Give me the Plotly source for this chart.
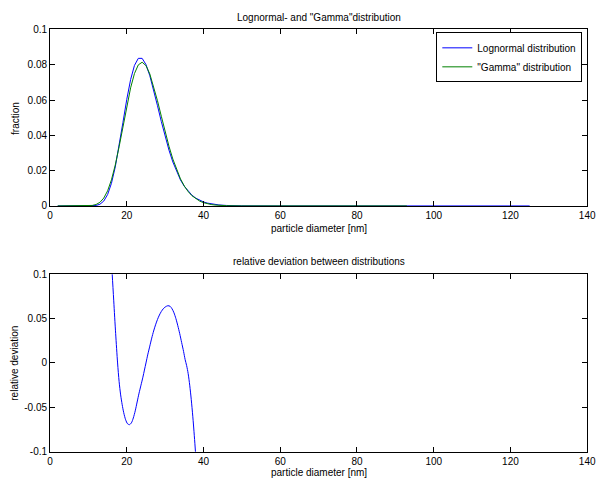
import plotly.graph_objects as go

# ---- data ----
x_dist = [2, 6, 10, 11, 12, 13, 14, 15, 16, 17, 18, 19, 20, 21, 22, 23, 24, 25, 26, 27, 28, 29,
          30, 31, 32, 33, 34, 35, 36, 37, 38, 39, 40, 41, 42, 43, 44, 46, 50, 60, 70, 80, 93,
          100, 110, 125]
lognormal = [0, 0, 0.0000077, 0.000054, 0.000266, 0.000964, 0.00275, 0.00645, 0.0128, 0.0221,
             0.0340, 0.0473, 0.0604, 0.0716, 0.0796, 0.0836, 0.0836, 0.0801, 0.0738, 0.0657,
             0.0568, 0.0478, 0.0393, 0.0316, 0.0249, 0.0193, 0.0147, 0.0111, 0.00824, 0.00606,
             0.00441, 0.00318, 0.00227, 0.00161, 0.00114, 0.000797, 0.000555, 0.000266, 0.000058,
             0, 0, 0, 0, 0, 0, 0]
x_gamma = [2, 6, 10, 11, 12, 13, 14, 15, 16, 17, 18, 19, 20, 21, 22, 23, 24, 25, 26, 27, 28, 29,
           30, 31, 32, 33, 34, 35, 36, 37, 38, 39, 40, 41, 42, 43, 44, 46, 50, 60, 70, 80, 93]
gamma = [0, 0.000001, 0.000077, 0.000277, 0.000819, 0.00205, 0.00445, 0.00855, 0.01478, 0.0232,
         0.03353, 0.04494, 0.05657, 0.0669, 0.0750, 0.0799, 0.0814, 0.0795, 0.0748, 0.0679,
         0.0596, 0.0508, 0.0420, 0.03377, 0.02656, 0.0204, 0.0153, 0.01126, 0.00812, 0.00575,
         0.0040, 0.00273, 0.00184, 0.00122, 0.0008, 0.000516, 0.00033, 0.000127, 0.000015,
         0, 0, 0, 0]

x_dev = [15.8, 16.2, 16.6, 17.1, 17.6, 18.0, 18.4, 18.8, 19.2, 19.7, 20.2, 20.7, 21.2, 21.7,
         22.2, 22.7, 23.2, 23.7, 24.2, 24.6, 25.0, 25.5, 26.0, 26.5, 27.0, 27.5, 28.0, 28.5,
         29.0, 29.5, 30.0, 30.7, 31.3, 31.8, 32.3, 32.8, 33.3, 33.8, 34.3, 34.8, 35.2, 35.6,
         36.0, 36.4, 36.8, 37.2, 37.6, 37.9, 38.2]
rel_dev = [0.13, 0.10, 0.07, 0.033, 0.0, -0.021, -0.036, -0.047, -0.056, -0.064, -0.0685,
           -0.0695, -0.0675, -0.062, -0.054, -0.044, -0.034, -0.025, -0.016, -0.008, 0.0, 0.010,
           0.019, 0.028, 0.036, 0.043, 0.049, 0.054, 0.058, 0.061, 0.063, 0.0645, 0.0638, 0.061,
           0.0565, 0.050, 0.042, 0.033, 0.023, 0.013, 0.004, -0.003, -0.012, -0.025, -0.041,
           -0.060, -0.082, -0.1, -0.12]

x_ticks = [0, 20, 40, 60, 80, 100, 120, 140]
y1_ticks = [0, 0.02, 0.04, 0.06, 0.08, 0.1]
y1_labels = ["0", "0.02", "0.04", "0.06", "0.08", "0.1"]
y2_ticks = [-0.1, -0.05, 0, 0.05, 0.1]
y2_labels = ["-0.1", "-0.05", "0", "0.05", "0.1"]

FONT = "Liberation Sans, Arial, Helvetica, sans-serif"
W, H = 606, 486

fig = go.Figure()
fig.add_trace(go.Scatter(x=x_dist, y=lognormal, mode="lines", name="Lognormal distribution",
                         line=dict(color="#0000FF", width=1), xaxis="x", yaxis="y"))
fig.add_trace(go.Scatter(x=x_gamma, y=gamma, mode="lines", name="\"Gamma\" distribution",
                         line=dict(color="#008000", width=1), xaxis="x", yaxis="y"))
fig.add_trace(go.Scatter(x=x_dev, y=rel_dev, mode="lines", showlegend=False,
                         line=dict(color="#0000FF", width=1, shape="spline", smoothing=0.8),
                         xaxis="x2", yaxis="y2"))

xd = [48 / W, 596 / W]
y1d = [1 - 205 / H, 1 - 24 / H]
y2d = [1 - 457 / H, 1 - 275 / H]

ax_common = dict(showline=True, linecolor="black", linewidth=1, mirror="allticks",
                 ticks="inside", ticklen=5, tickcolor="black", showgrid=False, zeroline=False,
                 tickfont=dict(family=FONT, size=10, color="black"))

fig.update_layout(
    width=W, height=H,
    margin=dict(l=0, r=0, t=0, b=0),
    paper_bgcolor="white", plot_bgcolor="white",
    font=dict(family=FONT, size=10, color="black"),
    xaxis=dict(domain=xd, anchor="y", range=[0, 140], tickvals=x_ticks, **ax_common),
    yaxis=dict(domain=y1d, anchor="x", range=[0, 0.1], tickvals=y1_ticks, ticktext=y1_labels,
               **ax_common),
    xaxis2=dict(domain=xd, anchor="y2", range=[0, 140], tickvals=x_ticks, **ax_common),
    yaxis2=dict(domain=y2d, anchor="x2", range=[-0.1, 0.1], tickvals=y2_ticks,
                ticktext=y2_labels, **ax_common),
    legend=dict(x=591 / W, y=1 - 27 / H, xanchor="right", yanchor="top",
                bordercolor="black", borderwidth=1, bgcolor="white",
                font=dict(family=FONT, size=10, color="black"),
                tracegroupgap=0, itemwidth=30),
    showlegend=True,
)

ann = [
    dict(text="Lognormal- and \"Gamma\"distribution", x=322 / W, y=1 - 12 / H),
    dict(text="particle diameter [nm]", x=322 / W, y=1 - 228 / H),
    dict(text="relative deviation between distributions", x=322 / W, y=1 - 262 / H),
    dict(text="particle diameter [nm]", x=322 / W, y=1 - 478 / H),
]
for a in ann:
    fig.add_annotation(xref="paper", yref="paper", showarrow=False, xanchor="center",
                       yanchor="middle", font=dict(family=FONT, size=10, color="black"), **a)
fig.add_annotation(text="fraction", xref="paper", yref="paper", x=12 / W, y=1 - 115 / H,
                   textangle=-90, showarrow=False, xanchor="center", yanchor="middle",
                   font=dict(family=FONT, size=10, color="black"))
fig.add_annotation(text="relative deviation", xref="paper", yref="paper", x=12 / W,
                   y=1 - 366 / H, textangle=-90, showarrow=False, xanchor="center",
                   yanchor="middle", font=dict(family=FONT, size=10, color="black"))

fig.write_html("out.html", post_script="document.body.style.margin='0';")
